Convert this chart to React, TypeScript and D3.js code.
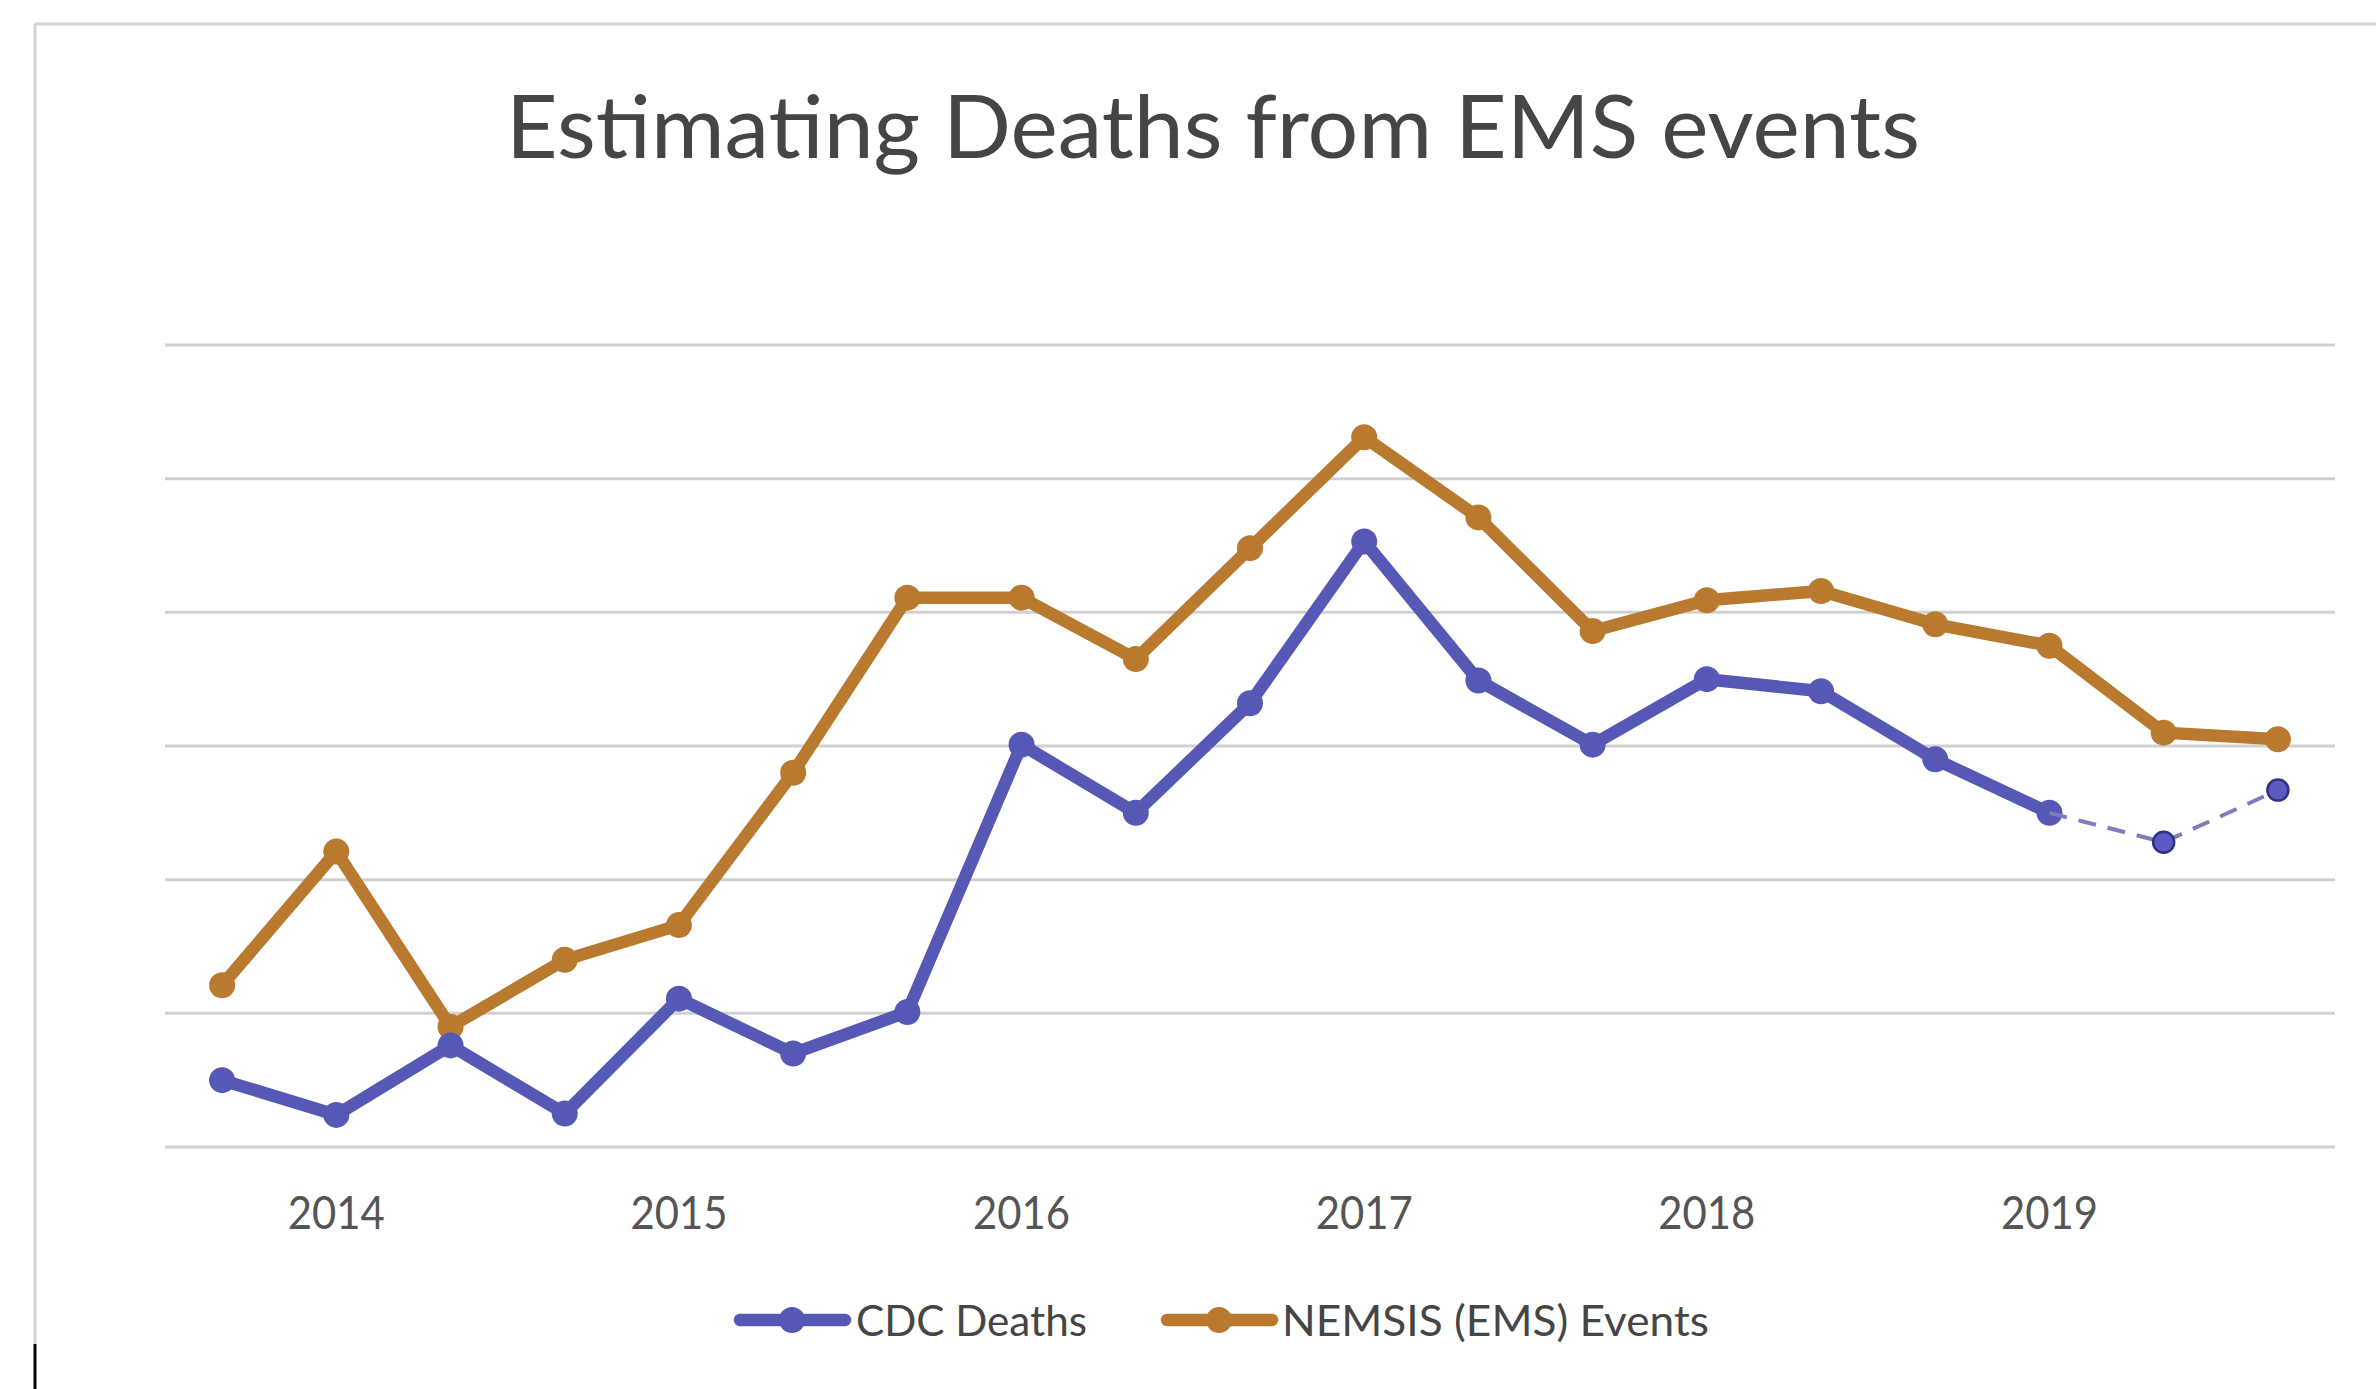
import React from 'react';
import * as d3 from 'd3';

// periods are thirds of a year; only the first third of each year gets a label
const periods = [
  '2013 P3',
  '2014 P1', '2014 P2', '2014 P3',
  '2015 P1', '2015 P2', '2015 P3',
  '2016 P1', '2016 P2', '2016 P3',
  '2017 P1', '2017 P2', '2017 P3',
  '2018 P1', '2018 P2', '2018 P3',
  '2019 P1', '2019 P2', '2019 P3',
];
const tickLabels = ['', '2014', '', '', '2015', '', '', '2016', '', '', '2017', '', '', '2018', '', '', '2019', '', ''];

// values in gridline units (the chart hides the value axis)
const cdcDeaths = [0.5, 0.24, 0.76, 0.25, 1.11, 0.7, 1.01, 3.01, 2.5, 3.32, 4.53, 3.49, 3.01, 3.5, 3.41, 2.9, 2.5];
const cdcProjected = [2.28, 2.67]; // 2019 P2, P3 (estimated, dashed)
const nemsisEvents = [1.21, 2.21, 0.9, 1.4, 1.66, 2.8, 4.11, 4.11, 3.65, 4.48, 5.31, 4.71, 3.86, 4.09, 4.16, 3.91, 3.75, 3.1, 3.05];
const gridValues = [0, 1, 2, 3, 4, 5, 6];

const W = 2376;
const H = 1389;
const BLUE = '#5558b5';
const ORANGE = '#b97a2f';
const FONT = 'Lato, "Open Sans", sans-serif';

export default function App() {
  const x = d3.scaleBand<string>().domain(periods).range([165, 2335]).padding(0);
  const cx = (i: number) => (x(periods[i]) as number) + x.bandwidth() / 2;
  const y = d3.scaleLinear().domain([0, 6]).range([1147, 345]);

  const line = d3.line<number>().x((_, i) => cx(i)).y(d => y(d));

  const lastIdx = cdcDeaths.length - 1;
  const projPts: [number, number][] = [
    [cx(lastIdx), y(cdcDeaths[lastIdx])],
    ...cdcProjected.map((v, j) => [cx(lastIdx + 1 + j), y(v)] as [number, number]),
  ];
  const projLine = d3.line();

  return (
    <svg width={W} height={H} style={{ position: 'absolute', left: 0, top: 0, background: '#fff' }}>
      {/* chart frame */}
      <line x1={35} x2={W} y1={24} y2={24} stroke="#d3d3d3" strokeWidth={3} />
      <line x1={35} x2={35} y1={24} y2={1344} stroke="#d3d3d3" strokeWidth={3} />
      <line x1={35} x2={35} y1={1344} y2={H} stroke="#000" strokeWidth={3} />

      <text x={1213} y={158} textAnchor="middle" fontFamily={FONT} fontSize={88} fill="#454545"
        textLength={1414} lengthAdjust="spacingAndGlyphs">
        Estimating Deaths from EMS events
      </text>

      {gridValues.map(v => (
        <line key={v} x1={165} x2={2335} y1={y(v)} y2={y(v)} stroke="#d0d0d0" strokeWidth={3} />
      ))}

      {tickLabels.map((t, i) => t && (
        <text key={i} x={cx(i)} y={1229} textAnchor="middle" fontFamily={FONT} fontSize={46} fill="#555"
          textLength={97} lengthAdjust="spacingAndGlyphs">
          {t}
        </text>
      ))}

      <path d={line(nemsisEvents) || ''} fill="none" stroke={ORANGE} strokeWidth={12.5} strokeLinejoin="round" />
      {nemsisEvents.map((v, i) => (
        <circle key={i} cx={cx(i)} cy={y(v)} r={13} fill={ORANGE} />
      ))}

      <path d={line(cdcDeaths) || ''} fill="none" stroke={BLUE} strokeWidth={12.5} strokeLinejoin="round" />
      {cdcDeaths.map((v, i) => (
        <circle key={i} cx={cx(i)} cy={y(v)} r={13} fill={BLUE} />
      ))}
      <path d={projLine(projPts) || ''} fill="none" stroke="#7b7ebb" strokeWidth={4} strokeDasharray="18 12" />
      {projPts.slice(1).map((p, i) => (
        <circle key={i} cx={p[0]} cy={p[1]} r={10.5} fill="#5a5cc2" stroke="#2f3080" strokeWidth={2.5} />
      ))}

      {/* legend */}
      <g>
        <line x1={740} x2={845} y1={1320} y2={1320} stroke={BLUE} strokeWidth={12.5} strokeLinecap="round" />
        <circle cx={792} cy={1320} r={13} fill={BLUE} />
        <text x={856} y={1336} fontFamily={FONT} fontSize={42} fill="#454545" textLength={231} lengthAdjust="spacingAndGlyphs">
          CDC Deaths
        </text>
        <line x1={1167} x2={1272} y1={1320} y2={1320} stroke={ORANGE} strokeWidth={12.5} strokeLinecap="round" />
        <circle cx={1219} cy={1320} r={13} fill={ORANGE} />
        <text x={1282} y={1336} fontFamily={FONT} fontSize={42} fill="#454545" textLength={427} lengthAdjust="spacingAndGlyphs">
          NEMSIS (EMS) Events
        </text>
      </g>
    </svg>
  );
}
